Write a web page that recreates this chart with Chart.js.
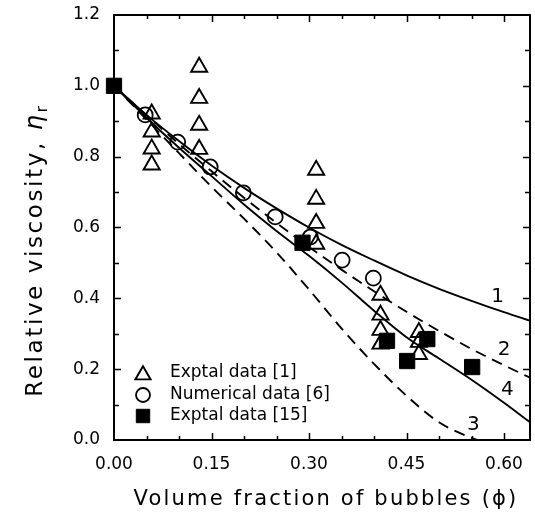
<!DOCTYPE html>
<html><head><meta charset="utf-8">
<script src="https://cdn.jsdelivr.net/npm/chart.js@4.4.0/dist/chart.umd.min.js"></script>
<style>html,body{margin:0;padding:0;background:#fff;}#wrap{width:535px;height:520px;position:relative;}</style>
</head><body><div id="wrap"><canvas id="c" width="535" height="520"></canvas></div>
<script>
// ---- data ----
const xTickValues = [0, 0.15, 0.30, 0.45, 0.60];
const xTickLabels = ['0.00', '0.15', '0.30', '0.45', '0.60'];
const yTickValues = [0, 0.2, 0.4, 0.6, 0.8, 1.0, 1.2];
const yTickLabels = ['0.0', '0.2', '0.4', '0.6', '0.8', '1.0', '1.2'];

const seriesNames = ['Exptal data [1]', 'Numerical data [6]', 'Exptal data [15]'];

const exp1X = [0.058, 0.058, 0.058, 0.058, 0.131, 0.131, 0.131, 0.131, 0.311, 0.311, 0.311, 0.311, 0.41, 0.41, 0.41, 0.41, 0.469, 0.469, 0.469];
const exp1Y = [0.921, 0.870, 0.822, 0.777, 1.053, 0.965, 0.889, 0.821, 0.762, 0.680, 0.612, 0.553, 0.409, 0.353, 0.310, 0.271, 0.304, 0.276, 0.242];

const numX = [0.048, 0.098, 0.148, 0.199, 0.248, 0.302, 0.351, 0.399];
const numY = [0.918, 0.841, 0.771, 0.698, 0.630, 0.573, 0.508, 0.457];

const exp15X = [0.0, 0.29, 0.42, 0.451, 0.482, 0.551];
const exp15Y = [1.0, 0.557, 0.280, 0.223, 0.285, 0.206];

const curveX = [0, 0.05, 0.10, 0.15, 0.20, 0.25, 0.30, 0.35, 0.40, 0.45, 0.50, 0.55, 0.60, 0.64];
const curve1 = [1.0, 0.918, 0.844, 0.775, 0.712, 0.654, 0.600, 0.551, 0.507, 0.465, 0.427, 0.393, 0.361, 0.337];
const curve2 = [1.0, 0.917, 0.836, 0.759, 0.684, 0.613, 0.545, 0.481, 0.420, 0.362, 0.308, 0.257, 0.211, 0.176];
const curve4 = [1.0, 0.910, 0.825, 0.745, 0.665, 0.590, 0.520, 0.445, 0.365, 0.290, 0.230, 0.170, 0.105, 0.050];
const curve3X = [0, 0.05, 0.10, 0.15, 0.20, 0.25, 0.30, 0.35, 0.40, 0.45, 0.50, 0.55, 0.56];
const curve3 = [1.0, 0.905, 0.810, 0.715, 0.625, 0.530, 0.425, 0.315, 0.215, 0.125, 0.050, 0.006, 0.0];

const curveLabels = ['1', '2', '3', '4'];
const curveLabelX = [0.59, 0.60, 0.553, 0.605];
const curveLabelY = [0.404, 0.254, 0.042, 0.141];

const xTitle = 'Volume fraction of bubbles (\u03D5)';
const yTitleMain = 'Relative viscosity, ';
const yTitleSym = '\u03B7';
const yTitleSub = 'r';

// ---- build ----
const pts = (xs, ys) => xs.map((x, i) => ({x: x, y: ys[i]}));
const FONT = "'DejaVu Sans', sans-serif";

const lineDs = (label, xs, ys, dash) => ({
  type: 'scatter', label: label, data: pts(xs, ys), showLine: true,
  borderColor: '#000', borderWidth: 1.9, borderDash: dash, pointRadius: 0,
  pointHoverRadius: 0, fill: false, tension: 0.4, cubicInterpolationMode: 'monotone', order: 10, clip: true
});

const markerOpts = [
  {pointStyle: 'triangle', radius: 9.3, borderWidth: 1.9, backgroundColor: 'rgba(0,0,0,0)'},
  {pointStyle: 'circle', radius: 7.5, borderWidth: 1.8, backgroundColor: 'rgba(0,0,0,0)'},
  {pointStyle: 'rect', radius: 10.8, borderWidth: 1, backgroundColor: '#000'}
];

const datasets = [
  lineDs('1', curveX, curve1, []),
  lineDs('2', curveX, curve2, [11, 7]),
  lineDs('3', curve3X, curve3, [11, 7]),
  lineDs('4', curveX, curve4, []),
];
[[exp1X, exp1Y], [numX, numY], [exp15X, exp15Y]].forEach((d, i) => {
  datasets.push({
    type: 'scatter', label: seriesNames[i], data: pts(d[0], d[1]),
    pointStyle: markerOpts[i].pointStyle, pointRadius: markerOpts[i].radius,
    pointBorderWidth: markerOpts[i].borderWidth, pointBorderColor: '#000',
    pointBackgroundColor: markerOpts[i].backgroundColor, borderColor: '#000',
    backgroundColor: markerOpts[i].backgroundColor, showLine: false, order: 3 - i, clip: false
  });
});

const decor = {
  id: 'decor',
  afterDraw(chart) {
    const ctx = chart.ctx, a = chart.chartArea;
    const xs = chart.scales.x, ys = chart.scales.y;
    ctx.save();
    ctx.strokeStyle = '#000'; ctx.fillStyle = '#000';
    // frame
    ctx.lineWidth = 2;
    ctx.strokeRect(a.left, a.top, a.right - a.left, a.bottom - a.top);
    // inward ticks
    ctx.lineWidth = 1.5;
    ctx.beginPath();
    for (let k = 1; k * 0.05 < 0.64 - 1e-9; k++) {
      const v = k * 0.05;
      const major = (k % 3 === 0);
      const len = major ? 7 : 4;
      const px = Math.round(xs.getPixelForValue(v)) + 0.5;
      ctx.moveTo(px, a.bottom); ctx.lineTo(px, a.bottom - len);
      ctx.moveTo(px, a.top); ctx.lineTo(px, a.top + len);
    }
    for (let k = 1; k < 12; k++) {
      const v = k * 0.1;
      const major = (k % 2 === 0);
      const len = major ? 7 : 5;
      const py = Math.round(ys.getPixelForValue(v)) + 0.5;
      ctx.moveTo(a.left, py); ctx.lineTo(a.left + len, py);
      ctx.moveTo(a.right, py); ctx.lineTo(a.right - len, py);
    }
    ctx.stroke();

    // curve labels
    ctx.font = '20px ' + FONT;
    ctx.textAlign = 'center'; ctx.textBaseline = 'middle';
    curveLabels.forEach((t, i) => {
      ctx.fillText(t, xs.getPixelForValue(curveLabelX[i]), ys.getPixelForValue(curveLabelY[i]));
    });

    // legend
    const lx = 143, ly = [373, 395, 416];
    markerOpts.forEach((m, i) => {
      ctx.lineWidth = m.borderWidth;
      ctx.fillStyle = m.backgroundColor;
      ctx.strokeStyle = '#000';
      Chart.helpers.drawPoint(ctx, {pointStyle: m.pointStyle, radius: m.pointStyle === 'rect' ? 9.5 : m.radius - 0.5, borderWidth: m.borderWidth, rotation: 0}, lx, ly[i] + (m.pointStyle === 'triangle' ? 2 : 0));
    });
    ctx.fillStyle = '#000';
    ctx.font = '17px ' + FONT;
    ctx.textAlign = 'left'; ctx.textBaseline = 'middle';
    seriesNames.forEach((t, i) => ctx.fillText(t, 170, ly[i]));

    // x title
    ctx.font = '21px ' + FONT;
    if ('letterSpacing' in ctx) ctx.letterSpacing = '2.2px';
    ctx.textAlign = 'center'; ctx.textBaseline = 'middle';
    ctx.fillText(xTitle, 326, 500);

    // y title (rotated)
    if ('letterSpacing' in ctx) ctx.letterSpacing = '2.6px';
    ctx.translate(36, 250);
    ctx.rotate(-Math.PI / 2);
    ctx.textAlign = 'left'; ctx.textBaseline = 'middle';
    ctx.font = '23px ' + FONT;
    const w1 = ctx.measureText(yTitleMain).width;
    ctx.font = 'italic 24px ' + FONT;
    const w2 = ctx.measureText(yTitleSym).width;
    ctx.font = '16px ' + FONT;
    const w3 = ctx.measureText(yTitleSub).width;
    let x0 = -(w1 + w2 + w3) / 2;
    ctx.font = '23px ' + FONT;
    ctx.fillText(yTitleMain, x0, 0);
    ctx.font = 'italic 24px ' + FONT;
    ctx.fillText(yTitleSym, x0 + w1, 0);
    ctx.font = '16px ' + FONT;
    ctx.fillText(yTitleSub, x0 + w1 + w2, 7);
    ctx.restore();
  }
};

new Chart(document.getElementById('c'), {
  type: 'scatter',
  data: {datasets: datasets},
  options: {
    responsive: false, animation: false, devicePixelRatio: 1,
    layout: {autoPadding: false, padding: {left: 0, right: 5, top: 15, bottom: 0}},
    plugins: {legend: {display: false}, tooltip: {enabled: false}},
    scales: {
      x: {
        type: 'linear', min: 0, max: 0.64,
        grid: {display: false, drawTicks: false}, border: {display: false},
        afterBuildTicks: s => { s.ticks = xTickValues.map(v => ({value: v})); },
        afterFit: s => { s.height = 80; s.paddingLeft = 0; s.paddingRight = 0; s.paddingTop = 0; s.paddingBottom = 0; },
        ticks: {
          padding: 14, color: '#000', font: {family: FONT, size: 17}, maxRotation: 0, autoSkip: false,
          callback: (v) => { const i = xTickValues.findIndex(t => Math.abs(t - v) < 1e-9); return i >= 0 ? xTickLabels[i] : ''; }
        }
      },
      y: {
        type: 'linear', min: 0, max: 1.2,
        grid: {display: false, drawTicks: false}, border: {display: false},
        afterBuildTicks: s => { s.ticks = yTickValues.map(v => ({value: v})); },
        afterFit: s => { s.width = 114; s.paddingLeft = 0; s.paddingRight = 0; s.paddingTop = 0; s.paddingBottom = 0; },
        ticks: {
          padding: 14, color: '#000', font: {family: FONT, size: 17}, autoSkip: false,
          callback: (v) => { const i = yTickValues.findIndex(t => Math.abs(t - v) < 1e-9); return i >= 0 ? yTickLabels[i] : ''; }
        }
      }
    }
  },
  plugins: [decor]
});
</script></body></html>
